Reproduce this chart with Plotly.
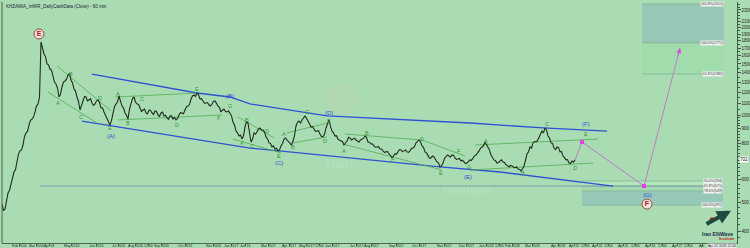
import math
import plotly.graph_objects as go

title = "KHZAMIA_InMIR_DailyCashData (Close) - 60 min"

# closing prices, read every 1.5 bars starting at bar 2
close = [495,470, 476,515, 540,552, 580,620, 638,650, 691,735, 754,760, 790,845, 869,880, 925,960,
         970,985, 1026,1075, 1093,1150, 1785,1700, 1623,1590, 1500,1490, 1441,1430, 1374,1300, 1280,1240, 1155,1180,
         1250,1300, 1311,1330, 1374,1390, 1321,1290, 1230,1210, 1155,1115, 1042,1085, 1128,1160, 1155,1120, 1128,1140,
         1101,1080, 1093,1120, 1128,1105, 1059,1060, 1026,1000, 986,960, 925,960, 1018,1070, 1093,1110, 1164,1120,
         1075,1060, 1018,1000, 970,1050, 1093,1140, 1155,1110, 1093,1090, 1059,1030, 1042,1050, 1018,1010, 1042,1040,
         1018,1006, 1034,1030, 1002,990, 1018,1025, 994,1000, 978,968, 994,995, 970,982, 963,975, 1002,1020,
         1018,1012, 1042,1070, 1075,1090, 1137,1165, 1173,1160, 1192,1175, 1137,1140, 1119,1100, 1101,1105, 1084,1075,
         1093,1115, 1119,1090, 1075,1065, 1026,1040, 1050,1030, 1026,1035, 1010,995, 948,925, 882,870, 848,855,
         828,850, 911,950, 940,880, 809,825, 869,860, 882,895, 904,890, 889,875, 842,830, 803,800,
         778,785, 765,770, 754,760, 784,800, 828,835, 822,812, 796,790, 815,850, 918,945, 955,940,
         963,975, 994,975, 948,935, 911,915, 897,880, 882,885, 862,845, 842,860, 904,940, 963,915,
         882,870, 848,850, 828,820, 815,812, 790,800, 815,840, 835,822, 828,834, 822,812, 809,822,
         828,832, 848,840, 809,808, 796,797, 784,776, 778,780, 765,765, 754,745, 748,750, 736,728,
         713,728, 736,735, 748,762, 760,750, 754,760, 748,745, 754,768, 771,780, 803,815, 822,810,
         784,775, 748,742, 724,712, 713,724, 719,700, 691,685, 664,670, 685,710, 719,730, 724,718,
         730,728, 713,705, 707,710, 696,700, 691,682, 685,696, 702,700, 713,725, 730,740, 754,770,
         778,785, 809,790, 771,760, 730,718, 702,698, 685,688, 696,702, 691,688, 675,672, 664,672,
         669,662, 659,665, 653,652, 643,655, 669,700, 736,748, 778,770, 803,812, 809,818, 842,858,
         882,870, 904,890, 848,835, 803,800, 771,762, 778,775, 748,750, 724,715, 702,704, 685,682,
         696,690, 702]
bar_start, bar_step = 2, 1.5
bars = [bar_start + bar_step * i for i in range(len(close))]

# x tick labels (bar positions)
xtick_bars = [19, 36, 49, 71, 96, 118, 135, 148, 161, 185, 213, 231, 245, 268, 289, 306, 319, 332, 356, 371,
              396, 419, 444, 466, 486, 499, 512, 532, 558, 574, 585, 597, 608, 623, 635, 650, 662, 677, 688, 702]
xtick_text = ["Feb 2016", "Mar 2016", "Apr 03", "May 2016", "Jun 2016", "Jul 2016", "Aug 2016", "12:00", "Sep 2016",
              "Oct 2016", "Nov 2016", "Jan 2017", "Jan 16", "Mar 2017", "Apr 2017", "May 2017", "12:00", "Jun 2017",
              "Jul 2017", "Aug 2017", "Sep 2017", "Oct 2017", "Nov 2017", "Dec 2017", "Jan 2018", "12:00", "Feb 2018",
              "Mar 2018", "Apr 2018", "Apr 22", "12:00", "Apr 24", "12:00", "Apr 25", "12:00", "Apr 26", "12:00",
              "Apr 27", "12:00", "Apr"]
ytick_vals = [400, 500, 600, 700, 800, 900, 1000, 1100, 1200, 1300, 1400, 1500, 1600, 1700, 1800, 1900, 2000, 2100, 2300]
ytick_minor = list(range(380, 1000, 20)) + list(range(1000, 2450, 50))

# channel lines (bar, price)
upper_ch_bars = [92, 197, 230, 250, 327, 420, 470, 543, 607]
upper_ch_vals = [1385, 1192, 1155, 1093, 994, 955, 940, 904, 882]
lower_ch_bars = [82, 250, 279, 440, 500, 613]
lower_ch_vals = [955, 771, 754, 664, 638, 571]

# sub-wave trendlines
green_lines = [
    ([57, 111], [1477, 1034]),
    ([48, 97], [1201, 940]),
    ([115, 197], [1155, 1192]),
    ([118, 222], [963, 1002]),
    ([233, 281], [828, 742]),
    ([238, 274], [986, 835]),
    ([287, 327], [869, 940]),
    ([293, 327], [803, 842]),
    ([343, 442], [796, 648]),
    ([345, 422, 465], [862, 822, 724]),
    ([475, 598], [790, 828]),
    ([470, 593], [648, 685]),
]

# projected path
proj_bars = [575, 582, 644, 680]
proj_vals = [702, 809, 571, 1702]

# wave labels
green_labels = [("A", 58, 1101), ("B", 71, 1385), ("C", 81, 986), ("D", 100, 1146), ("E", 110, 904),
                ("A", 118, 1182), ("B", 128, 940), ("C", 142, 1137), ("D", 177, 925), ("E", 197, 1230),
                ("F", 219, 978), ("G", 230, 1075),
                ("A", 242, 803), ("B", 247, 963), ("C", 252, 784), ("D", 267, 882), ("E", 279, 724),
                ("A", 284, 862), ("B", 293, 778), ("C", 307, 1026), ("D", 325, 815), ("E", 329, 955),
                ("A", 344, 754), ("B", 367, 869), ("C", 393, 696), ("D", 422, 828), ("E", 441, 633),
                ("F", 459, 754), ("G", 469, 664),
                ("A", 486, 815), ("B", 523, 633), ("C", 547, 933), ("D", 575, 659), ("E", 586, 862)]
blue_labels = [("(A)", 111, 848), ("(B)", 230, 1164), ("(C)", 279, 685), ("(D)", 329, 1018),
               ("(E)", 468, 613), ("(F)", 586, 933), ("(G)", 647, 532)]
red_labels = [("E", 39, 1901), ("F", 647, 495)]

# fibonacci zones
fib_low = [594, 571, 549, 491]
fib_low_text = ["50.0%(594)", "61.8%(571)", "78.6%(549)", "100.0%(491)"]
fib_high = [2412, 1771, 1385]
fib_high_text = ["161.8%(2412)", "100.0%(1771)", "61.8%(1385)"]

BG = "#aadcb4"
L = math.log10
FONT = "Liberation Sans"

fig = go.Figure()
shapes = []
ann = []

# fib boxes (shape coordinates are data values)
low_fills = ["#b4e6bc", "#a2d8b0", "#96c9b9"]
for i in range(3):
    shapes.append(dict(type="rect", xref="x", yref="y", x0=582, x1=723, y0=fib_low[i + 1], y1=fib_low[i],
                       fillcolor=low_fills[i], line_width=0, layer="below"))
high_fills = ["#96c8b5", "#a1ddac"]
for i in range(2):
    shapes.append(dict(type="rect", xref="x", yref="y", x0=642, x1=724, y0=fib_high[i + 1], y1=fib_high[i],
                       fillcolor=high_fills[i], line_width=0, layer="below"))
for v, t in zip(fib_low, fib_low_text):
    shapes.append(dict(type="line", xref="x", yref="y", x0=582, x1=723, y0=v, y1=v,
                       line=dict(color="#7fae90", width=0.7), layer="below"))
    ann.append(dict(x=723, y=L(v), xref="x", yref="y", text=t, showarrow=False, xanchor="right",
                    font=dict(size=3.5, color="#333", family=FONT), bgcolor="#f2f4f2", borderpad=0))
for v, t in zip(fib_high, fib_high_text):
    shapes.append(dict(type="line", xref="x", yref="y", x0=642, x1=724, y0=v, y1=v,
                       line=dict(color="#7fae90", width=0.7), layer="below"))
    ann.append(dict(x=724, y=L(v), xref="x", yref="y", text=t, showarrow=False, xanchor="right",
                    font=dict(size=3.5, color="#333", family=FONT), bgcolor="#f2f4f2", borderpad=0))
# horizontal level line
shapes.append(dict(type="line", xref="x", yref="y", x0=40, x1=723, y0=fib_low[1], y1=fib_low[1],
                   line=dict(color="#7c9dab", width=1), layer="below"))
# left border
shapes.append(dict(type="line", xref="paper", yref="paper", x0=0, x1=0, y0=0, y1=1,
                   line=dict(color="#4a6a52", width=1)))

# watermark
ann.append(dict(x=340, y=L(682), xref="x", yref="y", text="<b>Iran</b>", showarrow=False,
                font=dict(size=15, color="rgba(255,255,255,0.10)", family=FONT)))
ann.append(dict(x=468, y=L(555), xref="x", yref="y", text="<b>Institute</b>", showarrow=False,
                font=dict(size=13, color="rgba(255,255,255,0.10)", family=FONT)))
shapes.append(dict(type="circle", xref="x", yref="y", x0=323, x1=357, y0=1010, y1=1280,
                   fillcolor="rgba(230,180,160,0.12)", line_width=0, layer="below"))

# channels
fig.add_trace(go.Scatter(x=upper_ch_bars, y=upper_ch_vals, mode="lines", line=dict(color="#2f52d2", width=1.3),
                         hoverinfo="skip"))
fig.add_trace(go.Scatter(x=lower_ch_bars, y=lower_ch_vals, mode="lines", line=dict(color="#2f52d2", width=1.3),
                         hoverinfo="skip"))
for xs, ys in green_lines:
    fig.add_trace(go.Scatter(x=xs, y=ys, mode="lines", line=dict(color="#4fae4f", width=0.8), hoverinfo="skip"))

# price
fig.add_trace(go.Scatter(x=bars, y=close, mode="lines", line=dict(color="#1f2b1f", width=1.1)))

# projection
fig.add_trace(go.Scatter(x=proj_bars, y=proj_vals, mode="lines", line=dict(color="#c07cc6", width=1),
                         hoverinfo="skip"))
fig.add_trace(go.Scatter(x=proj_bars[1:3], y=proj_vals[1:3], mode="markers",
                         marker=dict(symbol="square", size=4, color="#e040e0"), hoverinfo="skip"))
ann.append(dict(x=proj_bars[3], y=L(proj_vals[3]), ax=proj_bars[3] - 2, ay=L(proj_vals[3]) - 0.03,
                xref="x", yref="y", axref="x", ayref="y", text="", showarrow=True, arrowhead=2,
                arrowsize=1, arrowwidth=1, arrowcolor="#d050d8"))

# labels
for t, x, v in green_labels:
    ann.append(dict(x=x, y=L(v), xref="x", yref="y", text=t, showarrow=False, borderpad=0,
                    font=dict(size=5.5, color="#2f9a34", family=FONT)))
for t, x, v in blue_labels:
    ann.append(dict(x=x, y=L(v), xref="x", yref="y", text=t, showarrow=False, borderpad=0,
                    font=dict(size=6, color="#2a50d0", family=FONT)))
fig.add_trace(go.Scatter(x=[r[1] for r in red_labels], y=[r[2] for r in red_labels], mode="markers+text",
                         text=["<b>" + r[0] + "</b>" for r in red_labels], textposition="middle center",
                         textfont=dict(size=7, color="#a81818", family=FONT),
                         marker=dict(size=10, color="#efe2da", line=dict(color="#9a4a44", width=1)),
                         hoverinfo="skip"))

# logo bottom right
ann.append(dict(x=731, y=L(470), ax=705, ay=L(420), xref="x", yref="y", axref="x", ayref="y", text="",
                showarrow=True, arrowhead=2, arrowsize=0.7, arrowwidth=4, arrowcolor="#1d4a3c"))
fig.add_trace(go.Scatter(x=[712], y=[437], mode="markers", marker=dict(size=5, color="#d42020"), hoverinfo="skip"))
ann.append(dict(x=717, y=L(392), xref="x", yref="y", text="<b>Iran ElliWave</b>", showarrow=False, borderpad=0,
                font=dict(size=5, color="#1a2a4a", family=FONT)))
ann.append(dict(x=727, y=L(378), xref="x", yref="y", text="<b>Institute</b>", showarrow=False, borderpad=0,
                font=dict(size=4, color="#c02020", family=FONT)))

# title
ann.append(dict(x=0.004, y=0.995, xref="paper", yref="paper", text=title, showarrow=False, xanchor="left",
                yanchor="top", borderpad=0, font=dict(size=4.5, color="#223", family=FONT)))

# x tick labels
for b, t in zip(xtick_bars, xtick_text):
    ann.append(dict(x=b, y=0, xref="x", yref="paper", text=t, showarrow=False, yanchor="middle", yshift=-2.6,
                    borderpad=0, font=dict(size=3.5, color="#222", family=FONT)))
# current price and date box
ann.append(dict(x=1, y=L(close[-1]), xref="paper", yref="y", text=str(close[-1]), showarrow=False,
                xanchor="left", xshift=2, font=dict(size=4.5, color="#111", family=FONT), bgcolor="#ffffff",
                borderpad=0))
ann.append(dict(x=1, y=0, xref="paper", yref="paper", text="Apr 22 2018 12:00", showarrow=False,
                xanchor="right", yanchor="middle", yshift=-2.6, font=dict(size=3.4, color="#333", family=FONT),
                bgcolor="#e6e8e6", borderpad=0))

fig.update_layout(
    width=750, height=248, template="none",
    margin=dict(l=2, r=13, t=2, b=5),
    paper_bgcolor=BG, plot_bgcolor=BG, showlegend=False,
    shapes=shapes, annotations=ann,
    xaxis=dict(range=[2, 737], showgrid=False, zeroline=False, showline=True, linecolor="#4a6a52", linewidth=1,
               tickvals=xtick_bars, ticks="outside", ticklen=1.5, tickcolor="#4a6a52", showticklabels=False,
               automargin=False),
    yaxis=dict(type="log", range=[L(363.8), L(2449)], side="right", showgrid=False, zeroline=False,
               showline=True, linecolor="#3d5e46", linewidth=1, tickvals=ytick_vals,
               ticktext=[str(v) for v in ytick_vals], ticks="outside", ticklen=2.5, tickcolor="#3d5e46",
               tickfont=dict(size=4.5, color="#222", family=FONT),
               minor=dict(tickvals=ytick_minor, ticks="outside", ticklen=1.5, tickcolor="#3d5e46"),
               automargin=False),
)

fig.write_html("out.html")
